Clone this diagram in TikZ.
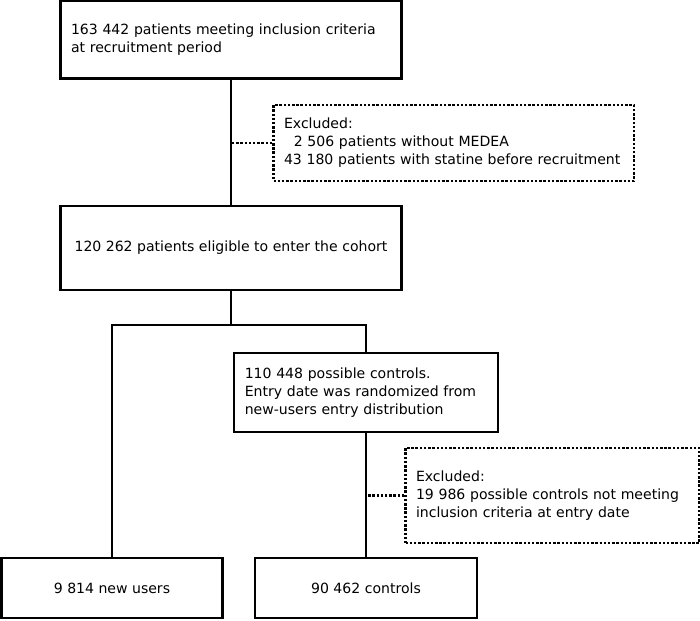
\documentclass[tikz,border=0pt]{standalone}
\usepackage{fontspec}
\setmainfont{DejaVu Sans}
\begin{document}
\begin{tikzpicture}[x = .02cm, y = -.02cm,
    box/.style = {draw, line width = 1.2pt, inner ysep = 0pt, font = \fontsize{8}{10.2}\selectfont},
    lbox/.style = {box, align = left, inner xsep = .21cm, text width = #1},
    exbox/.style = {lbox = #1, line width = 1.4pt, densely dotted},
    link/.style = {line width = .9pt},
    exlink/.style = {line width = 1.4pt, densely dotted}]
      \useasboundingbox (0,0) rectangle (700,621);
      \node [lbox = 6.4cm, minimum height = 1.56cm] (top) at (231,39.5) {163 442 patients meeting inclusion criteria\\at recruitment period};
      \node [exbox = 6.79cm, minimum height = 1.52cm] (excl1) at (453.75,143) {Excluded:\\\hspace*{.7em}2 506 patients without MEDEA\\43 180 patients with statine before recruitment};
      \node [box, align = center, minimum width = 6.82cm, minimum height = 1.68cm] (elig) at (231,248) {120 262 patients eligible to enter the cohort};
      \node [lbox = 4.85cm, minimum height = 1.58cm] (poss) at (366,392.5) {110 448 possible controls.\\Entry date was randomized from\\new-users entry distribution};
      \node [exbox = 5.46cm, minimum height = 1.9cm] (excl2) at (552.5,495.5) {Excluded:\\19 986 possible controls not meeting\\inclusion criteria at entry date};
      \node [box, minimum width = 4.42cm, minimum height = 1.2cm] (new) at (112,588) {9 814 new users};
      \node [box, minimum width = 4.44cm, minimum height = 1.2cm] (ctrl) at (366,588) {90 462 controls};
      \coordinate (split) at (231,325);
      % links
      \draw [link] (top) -- (elig);
      \draw [exlink] (excl1.west) -- (excl1.west -| top.south);
      \draw [link] (elig) -- (split);
      \draw [link] (new.north) |- (split) -| (poss.north);
      \draw [link] (poss) -- (ctrl);
      \draw [exlink] (excl2.west) -- (excl2.west -| poss.south);
\end{tikzpicture}
\end{document}
